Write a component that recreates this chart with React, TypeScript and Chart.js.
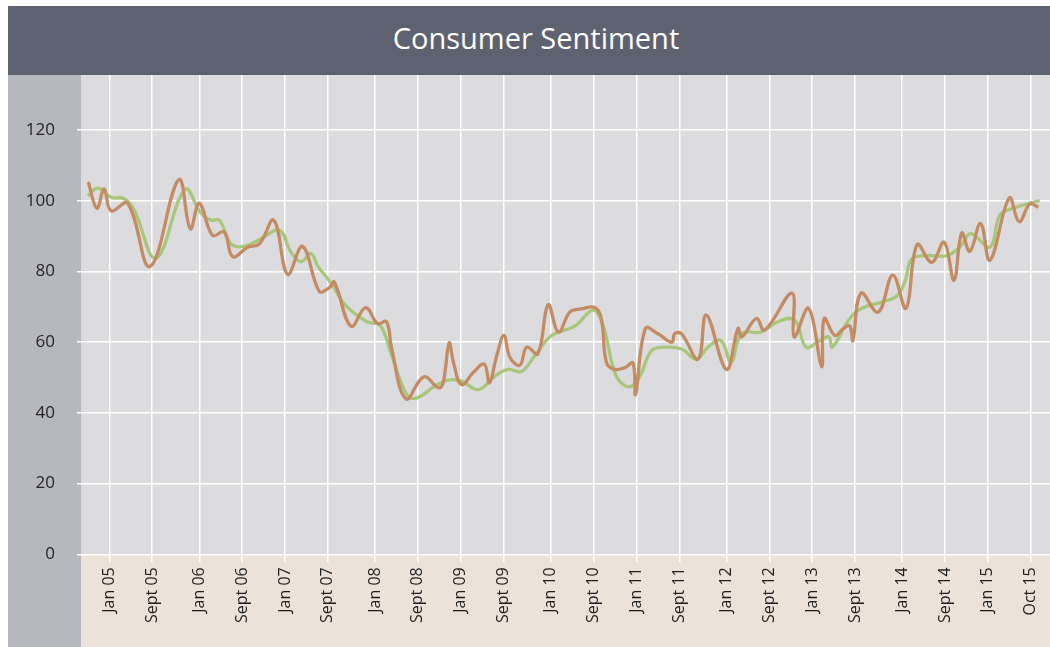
import React, { useEffect, useRef } from "react";
import { Chart, registerables } from "chart.js";

Chart.register(...registerables);

// Tick positions (in chart units, Jan 05 = 0) and labels
const tickUnits = [0, 10, 21, 31, 41, 51, 62, 72, 82, 92, 103, 113, 123, 133, 144, 154, 164, 174, 185, 195, 205, 215];
const tickLabels = [
  "Jan 05", "Sept 05", "Jan 06", "Sept 06", "Jan 07", "Sept 07", "Jan 08", "Sept 08",
  "Jan 09", "Sept 09", "Jan 10", "Sept 10", "Jan 11", "Sept 11", "Jan 12", "Sept 12",
  "Jan 13", "Sept 13", "Jan 14", "Sept 14", "Jan 15", "Oct 15",
];
const yTicks = [0, 20, 40, 60, 80, 100, 120];

// Brown series
const brownPos = [
  -4.9, -2.9, -1.2, 0.4, 4.3, 9.5, 16.2, 18.9, 21.0, 24.1, 26.8, 28.8, 32.3, 35.0, 38.4, 41.6,
  45.1, 49.0, 51.3, 52.5, 56.4, 59.8, 62.6, 64.7, 65.9, 69.2, 73.4, 76.8, 77.9, 79.3, 80.3, 82.2,
  84.9, 87.5, 88.7, 90.4, 92.1, 93.5, 95.8, 97.4, 100.0, 102.4, 104.8, 107.5, 110.1, 113.3, 114.8,
  116.0, 117.9, 120.3, 122.2, 122.8, 125.1, 128.0, 131.3, 131.9, 133.5, 137.4, 139.3, 144.0, 146.7,
  147.6, 151.0, 152.9, 159.3, 159.8, 163.2, 166.2, 166.8, 169.3, 171.3, 172.8, 173.5, 175.4, 179.4,
  182.8, 185.9, 188.5, 191.9, 194.8, 197.1, 198.9, 200.8, 203.3, 205.5, 210.0, 212.3, 214.8, 216.8,
];
const brownVal = [
  105.3, 97.9, 103.4, 97.2, 99.3, 81.4, 106, 92.1, 99.3, 90.2, 91.2, 84.2, 86.9, 87.8, 94.5, 79.2,
  87.1, 74.4, 75.4, 77, 64.5, 69.8, 65.3, 65.8, 58.1, 44, 50.2, 47.1, 48.5, 59.8, 54.3, 48,
  51.4, 53.8, 48.5, 56.2, 61.9, 55.7, 53.5, 58.6, 56.7, 70.6, 62.9, 68.6, 69.4, 69.8, 66.7,
  54.3, 52.3, 52.8, 54.1, 45.2, 63.9, 62.4, 60, 62.4, 62.4, 55.2, 67.7, 52.3, 63.9,
  61.5, 66.7, 63.4, 73.9, 61.5, 69.6, 53.1, 66.7, 61.9, 63.9, 64.6, 60.5, 73.9, 68.5,
  79, 69.6, 87.6, 82.6, 88.3, 77.5, 90.9, 85.7, 93.6, 83.2, 100.8, 94.1, 99.1, 98.2,
];

// Green series
const greenPos = [
  -5.0, -2.7, 0.4, 3.5, 5.8, 10.9, 17.7, 21.4, 23.7, 25.7, 28.4, 31.5, 35.4, 39.7, 42.4, 44.7,
  47.1, 48.6, 51.7, 55.0, 60.1, 63.2, 65.9, 69.4, 71.7, 76.0, 79.1, 82.2, 86.1, 90.0, 93.1, 96.2,
  99.3, 103.2, 108.7, 112.9, 115.2, 118.3, 121.4, 123.8, 126.5, 129.6, 133.5, 137.0, 139.7, 142.7,
  145.1, 147.5, 152.1, 156.0, 159.9, 162.6, 165.8, 167.9, 168.7, 172.8, 175.6, 180.6, 183.7, 185.7,
  187.2, 190.7, 195.4, 198.5, 201.0, 205.5, 207.8, 210.9, 217.1,
];
const greenVal = [
  101.4, 103.6, 101, 100.6, 97.4, 83.8, 103.2, 96.5, 94.5, 94.5, 87.8, 87.1, 89.3, 91.7, 85.4, 82.8,
  85.1, 81.6, 76.8, 70.6, 65.8, 64.8, 56.2, 45.2, 44.2, 47.6, 49.3, 49, 46.6, 50.4, 52.3, 51.7,
  56.2, 61.9, 64.6, 69.1, 64.8, 50.4, 47.4, 50.4, 57.6, 58.6, 58.1, 55.2, 58.6, 60.5,
  54.3, 62.4, 62.9, 65.8, 66.3, 58.6, 60.5, 61.5, 58.6, 66.7, 69.6, 71.5, 73, 77.3,
  83.5, 84.5, 84.5, 86.9, 90.7, 86.9, 96, 97.9, 100.1,
];

const xMin = -6.6;
const xMax = 219.5;
const yMin = 0;
const yMax = 135.6;

const CANVAS_W = 1042;
const CANVAS_H = 572;

const bgPlugin = {
  id: "panelBackgrounds",
  beforeDraw(chart: any) {
    const { ctx, chartArea: a, width, height } = chart;
    ctx.save();
    ctx.fillStyle = "#b6b7bf";
    ctx.fillRect(0, 0, a.left, height);
    ctx.fillStyle = "#dcdcdf";
    ctx.fillRect(a.left, 0, width - a.left, a.bottom);
    ctx.fillStyle = "#ede2d7";
    ctx.fillRect(a.left, a.bottom, width - a.left, height - a.bottom);
    ctx.restore();
  },
};

export default function App() {
  const ref = useRef<HTMLCanvasElement>(null);

  useEffect(() => {
    if (!ref.current) return;
    const chart = new Chart(ref.current, {
      type: "line",
      data: {
        datasets: [
          {
            label: "Brown",
            data: brownPos.map((x, i) => ({ x, y: brownVal[i] })),
            borderColor: "#c48c65",
            borderWidth: 3.3,
            pointRadius: 0,
            tension: 0.4,
            fill: false,
          },
          {
            label: "Green",
            data: greenPos.map((x, i) => ({ x, y: greenVal[i] })),
            borderColor: "#a9c77b",
            borderWidth: 3.3,
            pointRadius: 0,
            tension: 0.4,
            fill: false,
          },
        ],
      },
      options: {
        responsive: false,
        animation: false,
        events: [],
        layout: { padding: 0 },
        plugins: {
          legend: { display: false },
          tooltip: { enabled: false },
          title: { display: false },
        },
        scales: {
          x: {
            type: "linear",
            min: xMin,
            max: xMax,
            afterBuildTicks: (scale: any) => {
              scale.ticks = tickUnits.map((v) => ({ value: v }));
            },
            afterFit: (scale: any) => {
              scale.height = 92.7;
              scale.paddingLeft = 0;
              scale.paddingRight = 0;
            },
            grid: {
              color: "#ffffff",
              lineWidth: 1.5,
              tickLength: 8,
              drawTicks: true,
            },
            border: { display: false },
            ticks: {
              autoSkip: false,
              maxRotation: 90,
              minRotation: 90,
              padding: 5,
              color: "#1e1e1e",
              font: { family: "'Open Sans'", size: 16 },
              callback: (value: any) => {
                const idx = tickUnits.indexOf(Number(value));
                return idx >= 0 ? tickLabels[idx] : "";
              },
            },
          },
          y: {
            type: "linear",
            min: yMin,
            max: yMax,
            afterBuildTicks: (scale: any) => {
              scale.ticks = yTicks.map((v) => ({ value: v }));
            },
            afterFit: (scale: any) => {
              scale.width = 73;
              scale.paddingTop = 0;
              scale.paddingBottom = 0;
            },
            grid: {
              color: "#ffffff",
              lineWidth: 1.5,
              tickLength: 4,
            },
            border: { display: false },
            ticks: {
              padding: 22,
              color: "#262626",
              font: { family: "'Open Sans'", size: 17 },
              callback: (value: any) => String(value),
            },
          },
        },
      },
      plugins: [bgPlugin],
    });
    return () => chart.destroy();
  }, []);

  return (
    <div
      style={{
        position: "absolute",
        left: 8,
        top: 6,
        width: CANVAS_W,
        height: 641,
        background: "#ffffff",
      }}
    >
      <div
        style={{
          height: 69,
          background: "#5e6270",
          color: "#ffffff",
          fontFamily: "'Open Sans', sans-serif",
          fontSize: 29,
          display: "flex",
          alignItems: "center",
          justifyContent: "center",
          paddingBottom: 7,
          paddingLeft: 14,
          boxSizing: "border-box",
        }}
      >
        Consumer Sentiment
      </div>
      <canvas
        ref={ref}
        width={CANVAS_W}
        height={CANVAS_H}
        style={{ display: "block", width: CANVAS_W, height: CANVAS_H }}
      />
    </div>
  );
}
